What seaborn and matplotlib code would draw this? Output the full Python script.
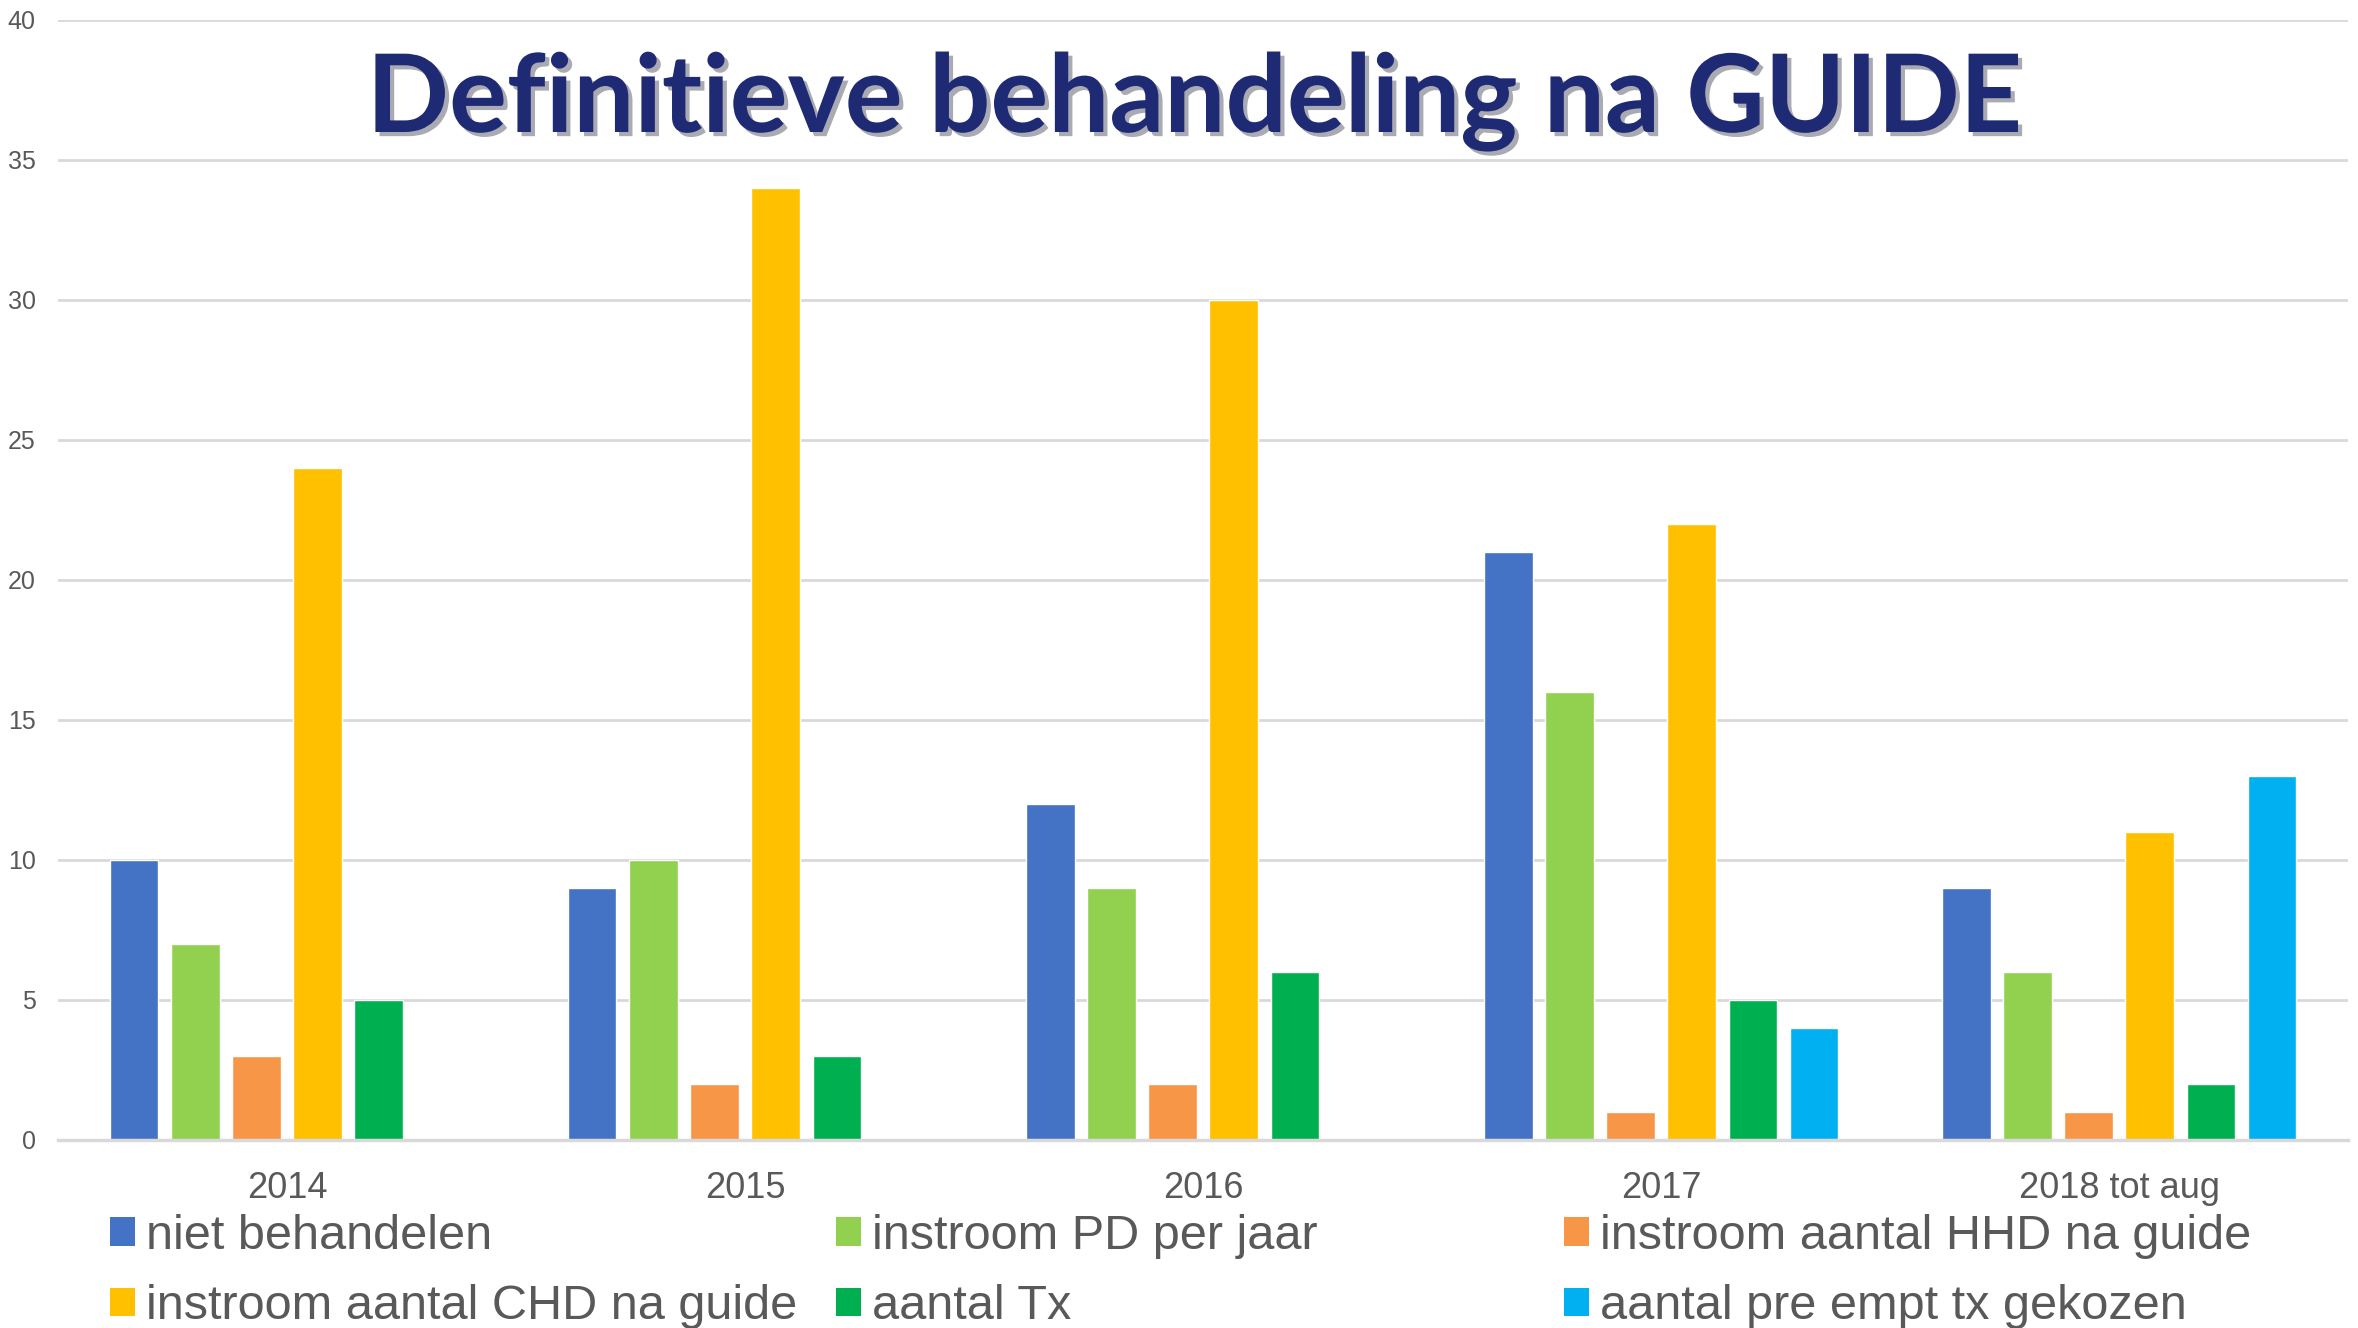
import numpy as np
import pandas as pd
import matplotlib.pyplot as plt
import matplotlib.patheffects as pe
from matplotlib.patches import Patch
import seaborn as sns

years = ['2014', '2015', '2016', '2017', '2018 tot aug']
series = ['niet behandelen', 'instroom PD per jaar', 'instroom aantal HHD na guide',
          'instroom aantal CHD na guide', 'aantal Tx', 'aantal pre empt tx gekozen']
niet_behandelen = [10, 9, 12, 21, 9]
instroom_pd = [7, 10, 9, 16, 6]
instroom_hhd = [3, 2, 2, 1, 1]
instroom_chd = [24, 34, 30, 22, 11]
aantal_tx = [5, 3, 6, 5, 2]
pre_empt_tx = [np.nan, np.nan, np.nan, 4, 13]
colors = ['#4472C4', '#92D050', '#F79646', '#FFC000', '#00B050', '#00B0F0']

values = [niet_behandelen, instroom_pd, instroom_hhd, instroom_chd, aantal_tx, pre_empt_tx]
rows = []
for name, vals in zip(series, values):
    for yr, v in zip(years, vals):
        rows.append({'jaar': yr, 'serie': name, 'aantal': v})
df = pd.DataFrame(rows)

sns.set_style('white')
plt.rcParams['font.family'] = ['Liberation Sans', 'DejaVu Sans']
text_color = '#595959'

fig = plt.figure(figsize=(23.58, 13.28), dpi=100)
ax = fig.add_axes([0.0246, 0.1416, 0.9712, 0.8434])

sns.barplot(data=df, x='jaar', y='aantal', hue='serie', hue_order=series,
            palette=colors, saturation=1, width=0.8, gap=0.21, ax=ax, legend=False,
            edgecolor='white', linewidth=1, errorbar=None)

ax.set_ylim(0, 40)
ax.set_yticks(range(0, 41, 5))
ax.set_xlim(-0.5, 4.5)
ax.yaxis.grid(True, color='#D9D9D9', linewidth=2)
ax.set_axisbelow(True)
for s in ['top', 'right', 'left']:
    ax.spines[s].set_visible(False)
ax.spines['bottom'].set_color('#D9D9D9')
ax.spines['bottom'].set_linewidth(2.5)
ax.set_xlabel('')
ax.set_ylabel('')
ax.tick_params(axis='y', length=0, pad=16, labelsize=18, labelcolor=text_color)
ax.tick_params(axis='x', length=0, pad=22, labelsize=26, labelcolor=text_color)

fig.text(0.507, 0.9006, 'Definitieve behandeling na GUIDE', ha='center', va='baseline',
         fontsize=78, fontweight='bold', color='#1F2A74', family=['Lato', 'DejaVu Sans'],
         path_effects=[pe.SimplePatchShadow(offset=(3, -3), alpha=0.35), pe.Normal()])

# legend: three columns placed like the original
handles = [Patch(facecolor=c, edgecolor='none') for c in colors]
cols = [(0, 3), (1, 4), (2, 5)]
xs = [0.0466, 0.3545, 0.6633]
for (i, j), x in zip(cols, xs):
    leg = fig.legend([handles[i], handles[j]], [series[i], series[j]],
                     loc='upper left', bbox_to_anchor=(x, 0.086), frameon=False,
                     fontsize=35, handlelength=0.52, handleheight=0.52, handletextpad=0.22,
                     labelspacing=0.52, borderaxespad=0, borderpad=0)
    for t in leg.get_texts():
        t.set_color(text_color)

fig.savefig('out.png', dpi=100)
